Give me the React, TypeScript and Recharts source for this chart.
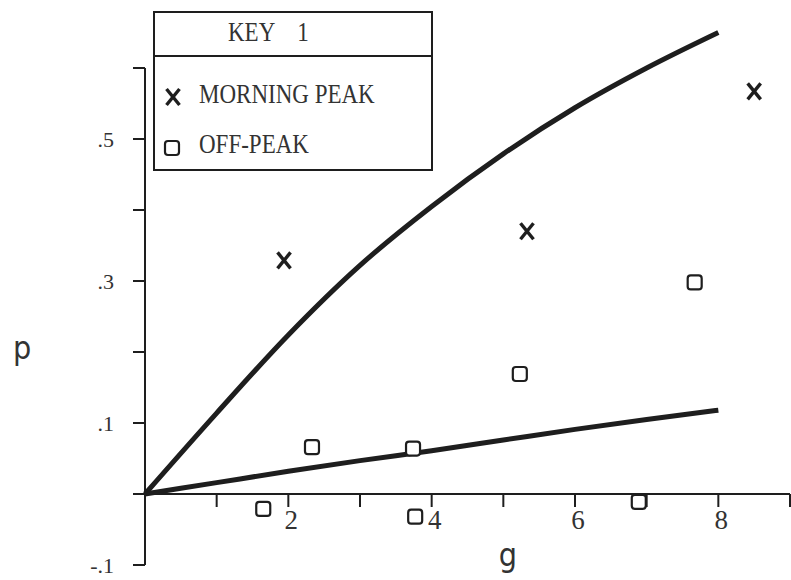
import React from 'react';
import { ComposedChart, Line, Scatter, XAxis, YAxis, ReferenceLine, Legend } from 'recharts';

// fitted curves, sampled at whole g values
const fitG = [0, 1, 2, 3, 4, 5, 6, 7, 8];
const fitUpper = [0, 0.114, 0.224, 0.322, 0.405, 0.479, 0.544, 0.6, 0.65];
const fitLower = [0, 0.016, 0.032, 0.047, 0.061, 0.076, 0.091, 0.105, 0.118];

// observed points
const morningG = [1.94, 5.33, 8.5];
const morningP = [0.329, 0.37, 0.567];
const offPeakG = [1.65, 2.33, 3.74, 3.77, 5.23, 6.89, 7.67];
const offPeakP = [-0.021, 0.066, 0.064, -0.032, 0.169, -0.011, 0.298];

const xTicks = [1, 2, 3, 4, 5, 6, 7, 8, 9];
const xTickLabels = ['', '2', '', '4', '', '6', '', '8', ''];
const yTicks = [-0.1, 0, 0.1, 0.2, 0.3, 0.4, 0.5, 0.6];
const yTickLabels = ['-.1', '', '.1', '', '.3', '', '.5', ''];

const seriesNames = ['MORNING PEAK', 'OFF-PEAK'];

const W = 791;
const H = 580;
const X_AXIS_H = 15;
const Y_AXIS_W = 145;
const Y_MIN = -0.1;
const Y_AXIS_TOP = 0.6; // drawn axis stops here, the fitted curve runs past it
const Y_DOMAIN_MAX = 0.66;
const PLOT_BOTTOM = H - X_AXIS_H;
const PX_PER_UNIT = 710;
const TOP = PLOT_BOTTOM - (Y_DOMAIN_MAX - Y_MIN) * PX_PER_UNIT;
const ZERO_Y = PLOT_BOTTOM + Y_MIN * PX_PER_UNIT;

const INK = '#1e1e1e';
const TEXT = '#333';
const SERIF = "'Liberation Serif', 'DejaVu Serif', serif";
const SANS = "'DejaVu Sans Condensed', 'DejaVu Sans', sans-serif";

const fitData = fitG.map((g, i) => ({ g, upper: fitUpper[i], lower: fitLower[i] }));
const morningData = morningG.map((g, i) => ({ g, p: morningP[i] }));
const offPeakData = offPeakG.map((g, i) => ({ g, p: offPeakP[i] }));

const Cross = ({ cx, cy }: any) => (
  <g stroke={INK} strokeWidth={3.4}>
    <line x1={cx - 6.5} y1={cy - 8} x2={cx + 6.5} y2={cy + 8} />
    <line x1={cx + 6.5} y1={cy - 8} x2={cx - 6.5} y2={cy + 8} />
  </g>
);

const Box = ({ cx, cy }: any) => (
  <rect x={cx - 7} y={cy - 7} width={14} height={14} rx={3} fill="#fff" stroke={INK} strokeWidth={2.2} />
);

// x ticks hang from the p = 0 line, not from the bottom of the plot
const XTick = ({ x, payload }: any) => {
  const label = xTickLabels[xTicks.indexOf(payload.value)];
  return (
    <g>
      <line x1={x} y1={ZERO_Y} x2={x} y2={ZERO_Y + 13} stroke={INK} strokeWidth={2} />
      {label ? (
        <text x={x + 3} y={ZERO_Y + 35} textAnchor="middle" fill={TEXT} fontSize={27} fontFamily={SERIF}>
          {label}
        </text>
      ) : null}
    </g>
  );
};

const yLabel = (v: number) => {
  const i = yTicks.findIndex(t => Math.abs(t - v) < 1e-9);
  return i >= 0 ? yTickLabels[i] : '';
};

const tall: React.CSSProperties = { display: 'inline-block', transform: 'scaleY(1.2)', transformOrigin: '50% 60%' };

const KeyBox = ({ payload }: any) => {
  const items = (payload || []).filter((p: any) => p.type !== 'none');
  return (
    <div
      style={{
        width: 280,
        height: 160,
        boxSizing: 'border-box',
        border: `2px solid ${INK}`,
        background: '#fff',
        fontFamily: SERIF,
        color: TEXT,
      }}
    >
      <div
        style={{
          height: 44,
          boxSizing: 'border-box',
          borderBottom: `2px solid ${INK}`,
          fontSize: 23,
          lineHeight: '40px',
          paddingLeft: 73,
          wordSpacing: 17,
          whiteSpace: 'nowrap',
        }}
      >
        <span style={tall}>KEY 1</span>
      </div>
      {items.map((item: any, i: number) => (
        <div key={item.value} style={{ display: 'flex', alignItems: 'center', height: 50, marginTop: i === 0 ? 13 : 0 }}>
          <svg width={44} height={30} style={{ flex: 'none' }}>
            {i === 0 ? <Cross cx={18} cy={17} /> : <Box cx={17} cy={18} />}
          </svg>
          <span style={{ ...tall, fontSize: 23, whiteSpace: 'nowrap' }}>{item.value}</span>
        </div>
      ))}
    </div>
  );
};

export default function App() {
  return (
    <div style={{ position: 'absolute', left: 0, top: 0, width: W, height: H, background: '#fff' }}>
      <ComposedChart width={W} height={H} data={fitData} margin={{ top: TOP, right: 1, bottom: 0, left: 0 }}>
        <XAxis
          type="number"
          dataKey="g"
          domain={[0, 9]}
          ticks={xTicks}
          interval={0}
          height={X_AXIS_H}
          axisLine={false}
          tickLine={false}
          tick={(p: any) => <XTick {...p} />}
          label={{
            content: ({ viewBox }: any) => (
              <text x={viewBox.x + 363} y={viewBox.y + 1} textAnchor="middle" fill={TEXT} fontSize={32} fontFamily={SANS}>
                g
              </text>
            ),
          }}
        />
        <YAxis
          type="number"
          domain={[Y_MIN, Y_DOMAIN_MAX]}
          ticks={yTicks}
          interval={0}
          width={Y_AXIS_W}
          tickSize={12}
          tickMargin={19}
          tickFormatter={yLabel}
          tick={{ fill: TEXT, fontSize: 22, fontFamily: SERIF }}
          axisLine={false}
          tickLine={{ stroke: INK, strokeWidth: 2 }}
          label={{
            content: ({ viewBox }: any) => (
              <text x={viewBox.x + 13} y={ZERO_Y - 135} fill={TEXT} fontSize={32} fontFamily={SANS}>
                p
              </text>
            ),
          }}
        />
        <ReferenceLine segment={[{ x: 0, y: Y_MIN }, { x: 0, y: Y_AXIS_TOP }]} stroke={INK} strokeWidth={2} />
        <ReferenceLine y={0} stroke={INK} strokeWidth={2} />
        <Line type="monotone" dataKey="upper" stroke={INK} strokeWidth={5} dot={false} legendType="none" isAnimationActive={false} />
        <Line type="monotone" dataKey="lower" stroke={INK} strokeWidth={5} dot={false} legendType="none" isAnimationActive={false} />
        <Scatter name={seriesNames[0]} data={morningData} dataKey="p" shape={<Cross />} isAnimationActive={false} />
        <Scatter name={seriesNames[1]} data={offPeakData} dataKey="p" shape={<Box />} isAnimationActive={false} />
        <Legend
          layout="vertical"
          align="center"
          verticalAlign="middle"
          wrapperStyle={{ top: 11, left: 153, width: 280, height: 160 }}
          content={(props: any) => <KeyBox payload={props.payload} />}
        />
      </ComposedChart>
    </div>
  );
}
